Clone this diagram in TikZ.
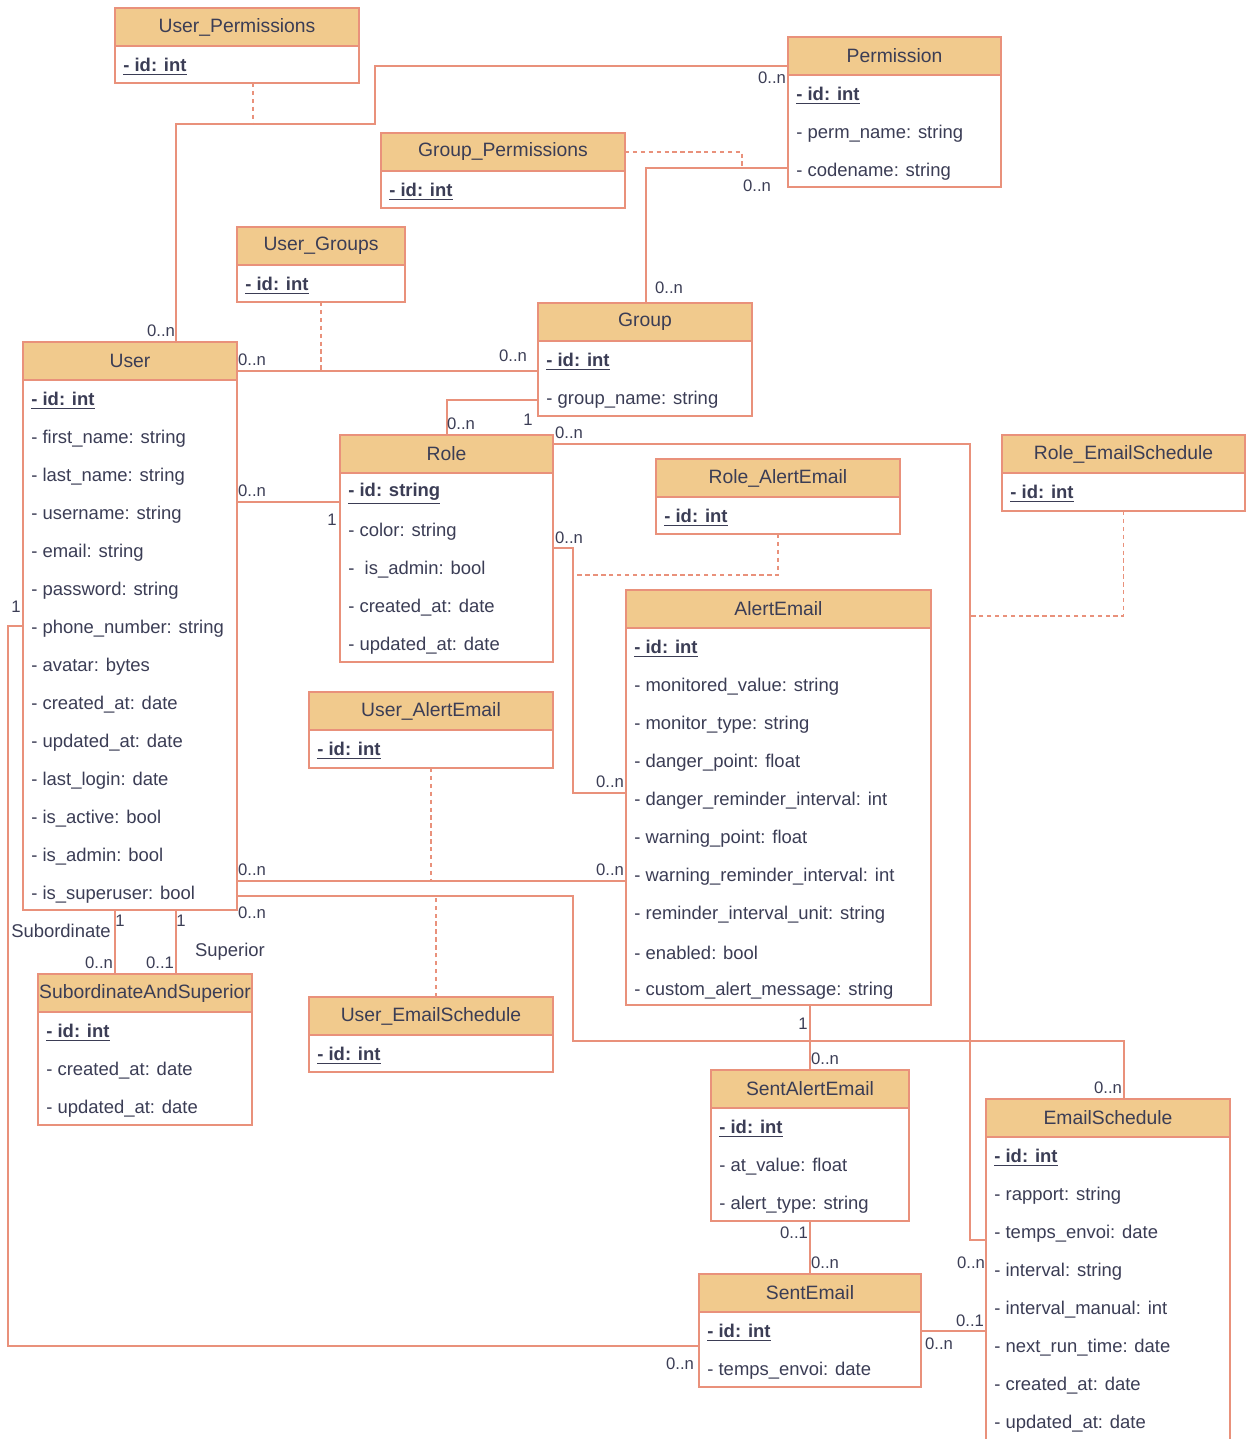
\documentclass[tikz,border=0pt]{standalone}
\usepackage{fontspec}
\setmainfont{Liberation Sans}
\definecolor{edge}{HTML}{E9917B}
\definecolor{head}{HTML}{F1CA8D}
\definecolor{ink}{HTML}{3B3D55}

\tikzset{
  x=0.02cm, y=-0.02cm,
  classframe/.style={draw=edge, line width=0.85pt, fill=white, inner sep=0pt, outer sep=0pt, anchor=north west},
  headbox/.style={draw=edge, line width=0.85pt, fill=head, inner sep=0pt, outer sep=0pt, anchor=north west,
    minimum height=0.76cm, text=ink, font=\fontsize{11}{13}\selectfont},
  attr/.style={anchor=west, inner sep=0pt, text=ink, font=\fontsize{10.5}{12}\selectfont},
  mult/.style={inner sep=0pt, text=ink, font=\fontsize{9.5}{11}\selectfont},
  rolename/.style={inner sep=0pt, text=ink, font=\fontsize{10.5}{12}\selectfont},
  assoc/.style={draw=edge, line width=0.7pt},
  linkdash/.style={draw=edge, line width=0.7pt, dash pattern=on 2.5pt off 2pt},
}

% class box: name, left, top, right, bottom, title, attribute list
\newcommand\umlclass[7]{%
  \node[classframe, minimum width={(#4-#2)*0.02cm}, minimum height={(#5-#3)*0.02cm}] (#1) at (#2,#3) {};
  \node[headbox, minimum width={(#4-#2)*0.02cm}] (#1-h) at (#2,#3) {#6};
  \foreach \t [count=\k from 0] in {#7} {
    \node[attr] (#1-a\k) at (#2+8, #3+59+38*\k) {\t};
  }%
}
\newcommand\pkey[1]{\textbf{\underline{- id: #1}}}

\begin{document}
\begin{tikzpicture}
\useasboundingbox (0,0) rectangle (1246,1439);
\clip (0,0) rectangle (1246,1439);

% ---------- classes ----------
\umlclass{uperm}{115}{8}{359}{83}{User\_Permissions}{\pkey{int}}
\umlclass{perm}{788}{37}{1001}{187}{Permission}{\pkey{int}, - perm\_name: string, - codename: string}
\umlclass{gperm}{381}{133}{625}{208}{Group\_Permissions}{\pkey{int}}
\umlclass{ugroups}{237}{227}{405}{302}{User\_Groups}{\pkey{int}}
\umlclass{group}{538}{303}{752}{416}{Group}{\pkey{int}, - group\_name: string}
\umlclass{user}{23}{342}{237}{910}{User}{\pkey{int}, - first\_name: string, - last\_name: string,
  - username: string, - email: string, - password: string, - phone\_number: string, - avatar: bytes,
  - created\_at: date, - updated\_at: date, - last\_login: date, - is\_active: bool, - is\_admin: bool,
  - is\_superuser: bool}
\umlclass{role}{340}{435}{553}{662}{Role}{\pkey{string}, - color: string, -\ \ is\_admin: bool,
  - created\_at: date, - updated\_at: date}
\umlclass{ralert}{656}{459}{900}{534}{Role\_AlertEmail}{\pkey{int}}
\umlclass{resched}{1002}{435}{1245}{511}{Role\_EmailSchedule}{\pkey{int}}
\umlclass{alert}{626}{590}{931}{1005}{AlertEmail}{\pkey{int}, - monitored\_value: string,
  - monitor\_type: string, - danger\_point: float, - danger\_reminder\_interval: int,
  - warning\_point: float, - warning\_reminder\_interval: int, - reminder\_interval\_unit: string,
  - enabled: bool, - custom\_alert\_message: string}
\umlclass{ualert}{309}{692}{553}{768}{User\_AlertEmail}{\pkey{int}}
\umlclass{sas}{38}{974}{252}{1125}{SubordinateAndSuperior}{\pkey{int}, - created\_at: date, - updated\_at: date}
\umlclass{uesched}{309}{997}{553}{1072}{User\_EmailSchedule}{\pkey{int}}
\umlclass{sentalert}{711}{1070}{909}{1221}{SentAlertEmail}{\pkey{int}, - at\_value: float, - alert\_type: string}
\umlclass{sentemail}{699}{1274}{921}{1387}{SentEmail}{\pkey{int}, - temps\_envoi: date}
\umlclass{esched}{986}{1099}{1230}{1460}{EmailSchedule}{\pkey{int}, - rapport: string, - temps\_envoi: date,
  - interval: string, - interval\_manual: int, - next\_run\_time: date, - created\_at: date, - updated\_at: date}

% ---------- route points ----------
\coordinate (w1) at (176,124);  \coordinate (w2) at (375,124);  \coordinate (w3) at (375,66);
\coordinate (d1) at (253,124);
\coordinate (w4) at (646,168);  \coordinate (d2) at (742,168);
\coordinate (w5) at (321,371);
\coordinate (w6) at (447,400);
\coordinate (w7) at (290,502);
\coordinate (w8) at (970,444);  \coordinate (w9) at (970,1240);
\coordinate (w10) at (573,548); \coordinate (w11) at (573,793); \coordinate (d3) at (573,575);
\coordinate (d4) at (1124,616);
\coordinate (w12) at (431,881);
\coordinate (w13) at (573,896); \coordinate (w14) at (573,1041); \coordinate (w15) at (1124,1041);
\coordinate (d5) at (436,896);
\coordinate (w17) at (950,1331);
\coordinate (w18) at (8,626);   \coordinate (w19) at (8,1346);
\coordinate (w20) at (115,940); \coordinate (w21) at (176,940);

% ---------- associations ----------
\draw[assoc] (w1 |- user.north) -- (w1) -- (w2) -- (w3) -- (w3 -| perm.west);
\draw[linkdash] (d1 |- uperm.south) -- (d1);

\draw[assoc] (w4 -| perm.west) -- (w4) -- (w4 |- group.north);
\draw[linkdash] (gperm-h.east) -- (gperm-h.east -| d2) -- (d2);

\draw[assoc] (w5 -| user.east) -- (w5 -| group.west);
\draw[linkdash] (ugroups.south) -- (ugroups.south |- w5);

\draw[assoc] (w6 -| group.west) -- (w6) -- (w6 |- role.north);

\draw[assoc] (w7 -| user.east) -- (w7 -| role.west);

\draw[assoc] (w8 -| role.east) -- (w8) -- (w9) -- (w9 -| esched.west);

\draw[assoc] (w10 -| role.east) -- (w10) -- (w11) -- (w11 -| alert.west);
\draw[linkdash] (ralert.south) -- (ralert.south |- d3) -- (d3);

\draw[linkdash] (resched.south) -- (resched.south |- d4) -- (d4 -| w8);

\draw[assoc] (w12 -| user.east) -- (w12 -| alert.west);
\draw[linkdash] (ualert.south) -- (ualert.south |- w12);

\draw[assoc] (w13 -| user.east) -- (w13) -- (w14) -- (w15) -- (w15 |- esched.north);
\draw[linkdash] (d5 |- uesched.north) -- (d5);

\draw[assoc] (sentalert.north) -- (sentalert.north |- alert.south);
\draw[assoc] (sentalert.south) -- (sentemail.north);

\draw[assoc] (w17 -| sentemail.east) -- (w17 -| esched.west);

\draw[assoc] (w18 -| user.west) -- (w18) -- (w19) -- (w19 -| sentemail.west);

\draw[assoc] (w20 |- user.south) -- (w20 |- sas.north);
\draw[assoc] (w21 |- user.south) -- (w21 |- sas.north);

% ---------- multiplicities and role names ----------
\node[mult] (m1)  at (161,331)  {0..n};
\node[mult] (m2)  at (772,78)   {0..n};
\node[mult] (m3)  at (757,186)  {0..n};
\node[mult] (m4)  at (669,288)  {0..n};
\node[mult] (m5)  at (252,360)  {0..n};
\node[mult] (m6)  at (513,356)  {0..n};
\node[mult] (m7)  at (461,424)  {0..n};
\node[mult] (m8)  at (528,420)  {1};
\node[mult] (m9)  at (252,491)  {0..n};
\node[mult] (m10) at (332,520)  {1};
\node[mult] (m11) at (569,433)  {0..n};
\node[mult] (m12) at (971,1263) {0..n};
\node[mult] (m13) at (569,538)  {0..n};
\node[mult] (m14) at (610,782)  {0..n};
\node[mult] (m15) at (252,870)  {0..n};
\node[mult] (m16) at (610,870)  {0..n};
\node[mult] (m17) at (252,913)  {0..n};
\node[mult] (m18) at (1108,1088) {0..n};
\node[mult] (m19) at (803,1024) {1};
\node[mult] (m20) at (825,1059) {0..n};
\node[mult] (m21) at (794,1233) {0..1};
\node[mult] (m22) at (825,1263) {0..n};
\node[mult] (m23) at (970,1321) {0..1};
\node[mult] (m24) at (939,1344) {0..n};
\node[mult] (m25) at (16,607)   {1};
\node[mult] (m26) at (680,1364) {0..n};
\node[mult] (m27) at (120,921)  {1};
\node[mult] (m28) at (99,963)   {0..n};
\node[mult] (m29) at (181,921)  {1};
\node[mult] (m30) at (160,963)  {0..1};
\node[rolename] (r1) at (61,931)  {Subordinate};
\node[rolename] (r2) at (230,952) {Superior};
\end{tikzpicture}
\end{document}
